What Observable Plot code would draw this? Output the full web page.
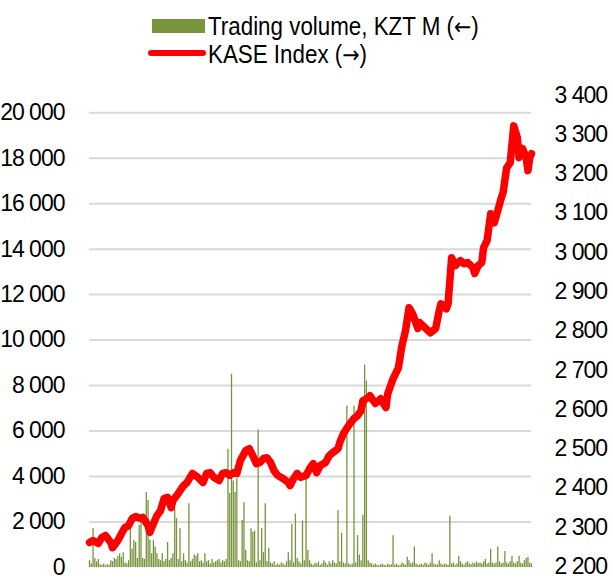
<!DOCTYPE html>
<html>
<head>
<meta charset="utf-8">
<script src="https://cdn.jsdelivr.net/npm/d3@7"></script>
<script src="https://cdn.jsdelivr.net/npm/@observablehq/plot@0.6"></script>
<style>
  html, body { margin: 0; padding: 0; background: #fff; }
  #wrap { position: relative; width: 613px; height: 588px; overflow: hidden; font-family: "Liberation Sans", Arial, sans-serif; }
  #legend { position: relative; width: 613px; height: 75px; }
  .sw { position: absolute; }
  .lt { position: absolute; left: 208px; font-size: 26px; line-height: 26px; color: #000; white-space: nowrap; transform: scaleX(0.86); transform-origin: left center; }
  .ar { font-family: "DejaVu Sans", sans-serif; font-size: 24px; }
</style>
</head>
<body>
<div id="wrap">
  <div id="legend">
    <div class="sw" style="left:152px; top:19px; width:53px; height:14px; background:#77933c;"></div>
    <div class="lt" id="lg0" style="top:13px;"></div>
    <div class="sw" style="left:148px; top:50px; width:58px; height:6px; border-radius:3px; background:#ff0000;"></div>
    <div class="lt" id="lg1" style="top:41px;"></div>
  </div>
  <div id="chart"></div>
</div>
<script>
// Daily trading volume, KZT M (one value per trading day, left axis)
const volume = [
  300, 150, 1700, 400, 250, 350, 120, 100, 150, 80,
  120, 100, 300, 250, 400, 350, 500, 600, 450, 650,
  200, 150, 300, 1750, 800, 1200, 1100, 400, 1850, 2000,
  400, 350, 3300, 2950, 1200, 600, 1200, 900, 600, 350,
  300, 600, 250, 350, 1100, 300, 400, 600, 2600, 2150,
  350, 1700, 250, 600, 300, 200, 2800, 250, 350, 550,
  500, 600, 250, 300, 200, 600, 250, 300, 150, 350,
  200, 250, 300, 350, 200, 300, 250, 350, 5200, 3250,
  8500, 3800, 3300, 3900, 300, 250, 2070, 2850, 750, 300,
  250, 1700, 1550, 1600, 200, 6050, 300, 1700, 650, 2800,
  250, 850, 200, 150, 250, 100, 150, 100, 200, 150,
  100, 250, 650, 300, 1900, 200, 2350, 400, 250, 150,
  2050, 300, 3950, 750, 300, 150, 100, 200, 150, 250,
  100, 150, 300, 200, 100, 250, 150, 300, 200, 150,
  2500, 250, 1500, 200, 150, 7100, 150, 100, 150, 7100,
  200, 1400, 550, 300, 2300, 8900, 8200, 300, 200, 150,
  100, 150, 100, 80, 120, 150, 100, 80, 150, 100,
  120, 1400, 100, 150, 80, 100, 200, 150, 100, 450,
  300, 150, 200, 900, 150, 100, 120, 150, 100, 200,
  150, 100, 200, 600, 150, 100, 120, 300, 150, 100,
  150, 120, 100, 2250, 150, 200, 100, 150, 500, 250,
  150, 100, 200, 250, 150, 120, 200, 150, 250, 180,
  200, 150, 250, 350, 150, 200, 800, 200, 150, 200,
  900, 250, 150, 200, 700, 200, 150, 250, 500, 200,
  150, 250, 500, 200, 150, 300, 400, 450, 200, 150
];

// KASE Index readings (trading-day number and index value, right axis)
const indexDays = [
  0, 2, 5, 7, 9, 12, 13, 16, 19, 20, 22, 24, 26, 29, 30, 33, 34, 36, 38, 40,
  42, 44, 46, 47, 50, 51, 53, 55, 58, 61, 64, 66, 68, 70, 73, 75, 77, 79, 81, 83,
  85, 88, 90, 92, 94, 96, 98, 100, 102, 104, 106, 109, 112, 113, 115, 117, 119, 122, 124, 126,
  128, 130, 133, 135, 137, 140, 141, 143, 146, 149, 151, 153, 154, 157, 158, 161, 164, 167, 168, 171,
  174, 176, 178, 180, 182, 185, 186, 189, 192, 195, 197, 198, 201, 202, 204, 206, 209, 211, 213, 216,
  217, 219, 221, 222, 224, 226, 228, 230, 232, 233, 235, 237, 239, 241, 242, 243, 244, 246, 247, 248, 249
];
const indexValues = [
  2261, 2266, 2259, 2274, 2279, 2261, 2248, 2266, 2292, 2299, 2304, 2322, 2327, 2322, 2325, 2304, 2287, 2309, 2330, 2342,
  2373, 2376, 2350, 2368, 2386, 2393, 2406, 2414, 2437, 2427, 2414, 2437, 2439, 2427, 2419, 2437, 2439, 2432, 2439, 2437,
  2470, 2495, 2500, 2482, 2462, 2465, 2475, 2477, 2465, 2444, 2432, 2424, 2414, 2406, 2424, 2437, 2427, 2432, 2449, 2462,
  2439, 2457, 2465, 2482, 2490, 2500, 2516, 2538, 2559, 2577, 2584, 2597, 2622, 2630, 2635, 2615, 2627, 2605, 2640, 2678,
  2706, 2762, 2800, 2859, 2844, 2806, 2821, 2808, 2795, 2806, 2851, 2869, 2856, 2869, 2986, 2966, 2979, 2971, 2974, 2961,
  2946, 2966, 2974, 3012, 3030, 3098, 3075, 3106, 3139, 3152, 3215, 3228, 3322, 3292, 3241, 3266, 3264, 3241, 3208, 3241, 3251
];

const leftTicks = [0, 2000, 4000, 6000, 8000, 10000, 12000, 14000, 16000, 18000, 20000];
const gridTicks = [2000, 4000, 6000, 8000, 10000, 12000, 14000, 16000, 18000, 20000];
const rightTicks = [2200, 2300, 2400, 2500, 2600, 2700, 2800, 2900, 3000, 3100, 3200, 3300, 3400];

const legendLabels = ["Trading volume, KZT M", "KASE Index"];
const legendArrows = ["←", "→"];

legendLabels.forEach((t, i) => {
  const el = document.getElementById("lg" + i);
  el.appendChild(document.createTextNode(t + " ("));
  const a = document.createElement("span");
  a.className = "ar";
  a.textContent = legendArrows[i];
  el.appendChild(a);
  el.appendChild(document.createTextNode(")"));
});

// map index (right axis) onto the volume (left axis) scale
const IDX0 = 2200, OFF = 44, K = 17.27;
const toVol = v => OFF + (v - IDX0) * K;
const fromVol = y => Math.round(((y - OFF) / K + IDX0) / 100) * 100;

const fmt = v => d3.format(",")(v).replace(/,/g, "\u00a0");

const volData = volume.map((v, i) => ({day: i, vol: v}));
const idxData = indexDays.map((d, i) => ({day: d, value: indexValues[i]}));

const chart = Plot.plot({
  width: 613,
  height: 513,
  marginLeft: 89,
  marginRight: 82,
  marginTop: 19,
  marginBottom: 21,
  x: {domain: [0, 249], axis: null},
  y: {domain: [0, 20800], axis: null},
  style: {fontFamily: "'Liberation Sans', Arial, sans-serif", fontSize: "23px", color: "#000", background: "#fff", overflow: "visible", letterSpacing: "-1px"},
  marks: [
    Plot.ruleY(gridTicks, {stroke: "#d9d9d9", strokeWidth: 2}),
    Plot.ruleX(volData, {x: "day", y1: 0, y2: "vol", stroke: "#77933c", strokeWidth: 1.3}),
    Plot.line(idxData, {x: "day", y: d => toVol(d.value), stroke: "#ff0000", strokeWidth: 7.5, strokeLinejoin: "round", strokeLinecap: "round"}),
    Plot.axisY(leftTicks, {anchor: "left", tickSize: 0, tickPadding: 25, tickFormat: fmt, label: null, fontSize: 23, fill: "#000"}),
    Plot.axisY(rightTicks.map(toVol), {anchor: "right", tickSize: 0, tickPadding: 23, tickFormat: v => fmt(fromVol(v)), label: null, fontSize: 23, fill: "#000"})
  ]
});
document.getElementById("chart").appendChild(chart);
</script>
</body>
</html>
